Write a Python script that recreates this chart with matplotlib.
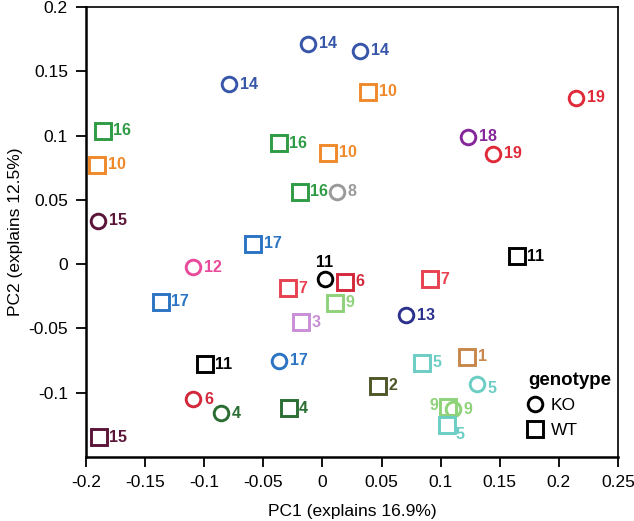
import matplotlib
matplotlib.use("Agg")
import matplotlib.pyplot as plt
from matplotlib.lines import Line2D

plt.rcParams['font.family'] = ['Liberation Sans', 'DejaVu Sans']

# ---- data ----
ko_id  = [14, 14, 14, 19, 18, 19, 8, 15, 12, 11, 13, 17, 6, 4, 5, 9]
ko_pc1 = [-0.0119, 0.0318, -0.0788, 0.2146, 0.1229, 0.1441, 0.0121, -0.1896,
          -0.1095, 0.0022, 0.0707, -0.0365, -0.1092, -0.0862, 0.1305, 0.1102]
ko_pc2 = [0.1715, 0.1659, 0.1400, 0.1296, 0.0990, 0.0860, 0.0565, 0.0337,
          -0.0025, -0.0118, -0.0398, -0.0752, -0.1051, -0.1160, -0.0933, -0.1128]

wt_id  = [16, 10, 10, 16, 10, 16, 17, 17, 11, 6, 7, 7, 9, 3, 11, 5, 1, 2, 4, 9, 5, 15]
wt_pc1 = [-0.1859, -0.1904, 0.0388, -0.0367, 0.0050, -0.0190, -0.0585, -0.1368,
          0.1644, 0.0191, -0.0288, 0.0906, 0.0107, -0.0181, -0.0997, 0.0840,
          0.1226, 0.0473, -0.0287, 0.1065, 0.1052, -0.1894]
wt_pc2 = [0.1037, 0.0772, 0.1342, 0.0941, 0.0868, 0.0565, 0.0160, -0.0291,
          0.0061, -0.0135, -0.0187, -0.0117, -0.0299, -0.0453, -0.0778, -0.0765,
          -0.0721, -0.0946, -0.1121, -0.1110, -0.1252, -0.1345]

xticks = [-0.2, -0.15, -0.1, -0.05, 0, 0.05, 0.1, 0.15, 0.2, 0.25]
yticks = [-0.1, -0.05, 0, 0.05, 0.1, 0.15, 0.2]

# ---- style ----
colors = {
    1: '#C8874B', 2: '#4F5628', 3: '#C88ED6', 4: '#2B6E34', 5: '#6BCDC4',
    6: '#D3283B', 7: '#E8414F', 8: '#9A9A9A', 9: '#8ED27A', 10: '#F0892A',
    11: '#000000', 12: '#E84B9B', 13: '#2B318C', 14: '#3756A8', 15: '#5B1538',
    16: '#2F9B45', 17: '#2B74C3', 18: '#85279A', 19: '#E02A3A',
}
# label offsets (points) for specific points: (group, index) -> (dx, dy, ha, va)
special = {
    ('ko', 9): (0, 7, 'center', 'bottom'),
    ('wt', 19): (-7, 1, 'right', 'center'),
    ('wt', 20): (6, -7, 'left', 'center'),
    ('ko', 14): (8, -3, 'left', 'center'),
}

fig = plt.figure(figsize=(6.34, 5.21), dpi=100)
ax = fig.add_axes([86/634, 1-457/521, (618-86)/634, (457-7)/521])

def draw(group, xs, ys, ids, marker, ms, dx0):
    for i, (x, y, n) in enumerate(zip(xs, ys, ids)):
        c = colors[n]
        ax.plot([x], [y], linestyle='none', marker=marker, markersize=ms,
                markerfacecolor='none', markeredgecolor=c, markeredgewidth=2.1,
                zorder=3)
        dx, dy, ha, va = special.get((group, i), (dx0, 0, 'left', 'center'))
        ax.annotate(str(n), (x, y), xytext=(dx, dy), textcoords='offset points',
                    ha=ha, va=va, color=c, fontsize=11.5, fontweight='bold',
                    zorder=4)

draw('ko', ko_pc1, ko_pc2, ko_id, 'o', 10.5, 8)
draw('wt', wt_pc1, wt_pc2, wt_id, 's', 11, 7.5)

ax.set_xlim(-0.2, 0.25)
ax.set_ylim(-0.15, 0.2)
ax.set_xticks(xticks)
ax.set_yticks(yticks)
ax.set_xticklabels([f"{t:g}" for t in xticks])
ax.set_yticklabels([f"{t:g}" for t in yticks])
ax.tick_params(direction='out', length=7, width=1.3, labelsize=12.5, pad=6)

for s in ['left', 'bottom']:
    ax.spines[s].set_linewidth(1.8)
for s in ['top', 'right']:
    ax.spines[s].set_linewidth(1.2)

ax.set_xlabel('PC1 (explains 16.9%)', fontsize=12.5, labelpad=10)
ax.set_ylabel('PC2 (explains 12.5%)', fontsize=12.5, labelpad=4)

handles = [
    Line2D([], [], linestyle='none', marker='o', markersize=10.5,
           markerfacecolor='none', markeredgecolor='black', markeredgewidth=2.1, label='KO'),
    Line2D([], [], linestyle='none', marker='s', markersize=11,
           markerfacecolor='none', markeredgecolor='black', markeredgewidth=2.1, label='WT'),
]
leg = ax.legend(handles=handles, title='genotype', loc='lower left',
                bbox_to_anchor=(0.818, 0.027), frameon=False, fontsize=12.5,
                handlelength=0.8, handletextpad=0.5, labelspacing=0.55,
                borderaxespad=0)
leg.get_title().set_fontweight('bold')
leg.get_title().set_fontsize(13.5)
leg._legend_box.align = 'left'

fig.savefig('out.png', dpi=100)
